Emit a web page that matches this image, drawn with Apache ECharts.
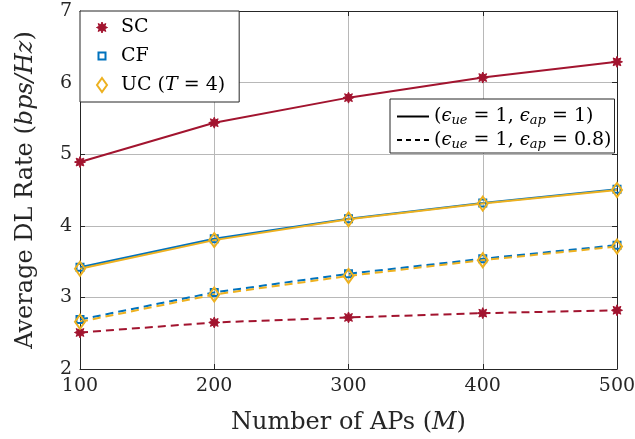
<!DOCTYPE html>
<html>
<head>
<meta charset="utf-8">
<script src="https://cdn.jsdelivr.net/npm/echarts@6/dist/echarts.min.js"></script>
<style>html,body{margin:0;padding:0;background:#fff;}#c{width:635px;height:439px;}</style>
</head>
<body>
<div id="c"></div>
<script>
// ---- data ----
var xValues = [100, 200, 300, 400, 500];
var scSolid = [4.89, 5.44, 5.79, 6.07, 6.29];
var cfSolid = [3.42, 3.82, 4.10, 4.32, 4.51];
var ucSolid = [3.40, 3.80, 4.09, 4.31, 4.50];
var scDashed = [2.51, 2.65, 2.72, 2.78, 2.82];
var cfDashed = [2.69, 3.07, 3.33, 3.54, 3.73];
var ucDashed = [2.66, 3.04, 3.30, 3.52, 3.71];
var xTicks = [100, 200, 300, 400, 500];
var yTicks = [2, 3, 4, 5, 6, 7];

var C_SC = '#A2142F', C_CF = '#0072BD', C_UC = '#EDB120';
var SERIF = '"DejaVu Serif", "Liberation Serif", serif';
var TXT = '#262626';

var starPath = 'path://M-10,-10 M10,10 M5.5,0 L2.77,1.15 L3.89,3.89 L1.15,2.77 L0,5.5 L-1.15,2.77 L-3.89,3.89 L-2.77,1.15 L-5.5,0 L-2.77,-1.15 L-3.89,-3.89 L-1.15,-2.77 L0,-5.5 L1.15,-2.77 L3.89,-3.89 L2.77,-1.15 Z';
var sqPath = 'path://M-10,-10 M10,10 M-3.5,-3.5 L3.5,-3.5 L3.5,3.5 L-3.5,3.5 Z';
var diaPath = 'path://M-10,-10 M10,10 M0,-7 L5,0 L0,7 L-5,0 Z';

function pairs(vals) { return xValues.map(function (x, i) { return [x, vals[i]]; }); }

function mk(name, vals, color, symbol, hollow, dashed) {
  return {
    name: name, type: 'line', data: pairs(vals),
    symbol: symbol, symbolSize: 20, showSymbol: true,
    lineStyle: { color: color, width: 2, type: dashed ? [8, 5] : 'solid' },
    itemStyle: hollow ? { color: 'rgba(0,0,0,0)', borderColor: color, borderWidth: 2 } : { color: color, borderColor: color, borderWidth: 1 },
    emphasis: { disabled: true },
    animation: false, z: 3
  };
}

var series = [
  mk('SC', scSolid, C_SC, starPath, false, false),
  mk('CF', cfSolid, C_CF, sqPath, true, false),
  mk('UC', ucSolid, C_UC, diaPath, true, false),
  mk('SC', scDashed, C_SC, starPath, false, true),
  mk('CF', cfDashed, C_CF, sqPath, true, true),
  mk('UC', ucDashed, C_UC, diaPath, true, true),
  { name: 'solid', type: 'line', data: [], symbol: 'none', lineStyle: { color: '#000', width: 1.5, type: 'solid' }, itemStyle: { color: '#000' } },
  { name: 'dashed', type: 'line', data: [], symbol: 'none', lineStyle: { color: '#000', width: 1.5, type: [5, 4] }, itemStyle: { color: '#000' } }
];

var eps = function (last) {
  return '{n|(}{e|ϵ}{s|ue}{n| = 1, }{e|ϵ}{s|ap}{n| = ' + last + ')}';
};

var hiddenSym = { color: 'rgba(0,0,0,0)', borderColor: 'rgba(0,0,0,0)', borderWidth: 0 };

var chart = echarts.init(document.getElementById('c'), null, { renderer: 'canvas' });
chart.setOption({
  animation: false,
  backgroundColor: '#fff',
  grid: { left: 80, right: 18, top: 11, bottom: 70, containLabel: false, outerBoundsMode: 'none' },
  xAxis: [{
    type: 'value', min: 100, max: 500, interval: 100,
    axisLine: { show: true, onZero: false, lineStyle: { color: TXT, width: 1 } },
    axisTick: { show: true, inside: true, length: 5, lineStyle: { color: TXT } },
    axisLabel: { color: TXT, fontFamily: SERIF, fontSize: 19, margin: 8,
      formatter: function (v) { return xTicks.indexOf(v) >= 0 ? String(v) : ''; } },
    splitLine: { show: true, lineStyle: { color: '#b8b8b8', width: 1 } },
    name: '{n|Number of APs (}{i|M}{n|)}', nameLocation: 'middle', nameGap: 42,
    nameTextStyle: { rich: {
      n: { fontFamily: SERIF, fontSize: 24, color: TXT },
      i: { fontFamily: SERIF, fontSize: 24, fontStyle: 'italic', color: TXT } } }
  }, {
    type: 'value', position: 'top', min: 100, max: 500, interval: 100,
    axisLine: { show: true, onZero: false, lineStyle: { color: TXT, width: 1 } },
    axisTick: { show: true, inside: true, length: 5, lineStyle: { color: TXT } },
    axisLabel: { show: false }, splitLine: { show: false }
  }],
  yAxis: [{
    type: 'value', min: 2, max: 7, interval: 1,
    axisLine: { show: true, onZero: false, lineStyle: { color: TXT, width: 1 } },
    axisTick: { show: true, inside: true, length: 5, lineStyle: { color: TXT } },
    axisLabel: { color: TXT, fontFamily: SERIF, fontSize: 19, margin: 8,
      formatter: function (v) { return yTicks.indexOf(v) >= 0 ? String(v) : ''; } },
    splitLine: { show: true, lineStyle: { color: '#b8b8b8', width: 1 } },
    name: '{n|Average DL Rate (}{i|bps/Hz}{n|)}', nameLocation: 'middle', nameGap: 42, nameRotate: 90,
    nameTextStyle: { rich: {
      n: { fontFamily: SERIF, fontSize: 24, color: TXT },
      i: { fontFamily: SERIF, fontSize: 24, fontStyle: 'italic', color: TXT } } }
  }, {
    type: 'value', position: 'right', min: 2, max: 7, interval: 1,
    axisLine: { show: true, onZero: false, lineStyle: { color: TXT, width: 1 } },
    axisTick: { show: true, inside: true, length: 5, lineStyle: { color: TXT } },
    axisLabel: { show: false }, splitLine: { show: false }
  }],
  legend: [{
    orient: 'vertical', left: 80, top: 11,
    padding: [6, 14, 6, 11], itemGap: 7, itemWidth: 20, itemHeight: 20,
    backgroundColor: '#fff', borderColor: TXT, borderWidth: 1, borderRadius: 0,
    selectedMode: false,
    data: [
      { name: 'SC', icon: starPath, itemStyle: { color: C_SC, borderColor: C_SC, borderWidth: 1 } },
      { name: 'CF', icon: sqPath, itemStyle: { color: 'rgba(0,0,0,0)', borderColor: C_CF, borderWidth: 2 } },
      { name: 'UC', icon: diaPath, itemStyle: { color: 'rgba(0,0,0,0)', borderColor: C_UC, borderWidth: 2 } }
    ],
    formatter: function (name) {
      if (name === 'UC') return '{n|UC (}{i|T}{n| = 4)}';
      return '{n|' + name + '}';
    },
    textStyle: { padding: [0, 0, 0, 4], rich: {
      n: { fontFamily: SERIF, fontSize: 19, lineHeight: 20, color: '#000' },
      i: { fontFamily: SERIF, fontSize: 19, lineHeight: 20, fontStyle: 'italic', color: '#000' } } },
    z: 10
  }, {
    orient: 'vertical', left: 390, top: 99,
    padding: [8, 3, 2, 6], itemGap: 3, itemWidth: 32, itemHeight: 14,
    backgroundColor: '#fff', borderColor: TXT, borderWidth: 1, borderRadius: 0,
    selectedMode: false,
    data: [{ name: 'solid', itemStyle: hiddenSym }, { name: 'dashed', itemStyle: hiddenSym }],
    formatter: function (name) { return name === 'solid' ? eps('1') : eps('0.8'); },
    textStyle: { rich: {
      n: { fontFamily: SERIF, fontSize: 19, color: '#000' },
      e: { fontFamily: SERIF, fontSize: 18, fontStyle: 'italic', color: '#000' },
      s: { fontFamily: SERIF, fontSize: 13, fontStyle: 'italic', padding: [9, 0, 0, 0], color: '#000' } } },
    z: 10
  }],
  series: series
});
</script>
</body>
</html>
